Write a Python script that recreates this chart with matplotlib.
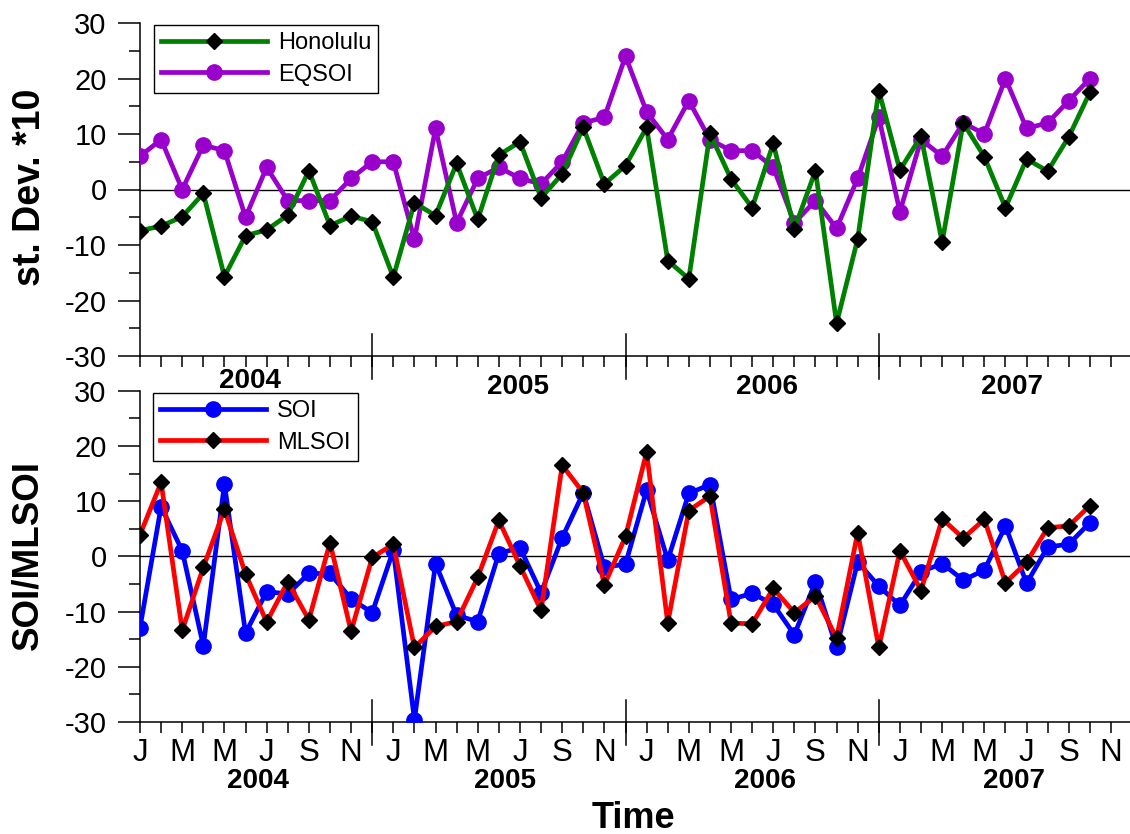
import matplotlib
matplotlib.use('Agg')
import matplotlib.pyplot as plt
import matplotlib.transforms as mtransforms
from matplotlib.lines import Line2D

plt.rcParams['font.family'] = ['Liberation Sans', 'DejaVu Sans']
plt.rcParams['axes.unicode_minus'] = False

# month index 0 = Jan 2004
honolulu = [-7.4, -6.6, -4.9, -0.7, -15.7, -8.3, -7.3, -4.6, 3.4, -6.5, -4.8, -5.8,
            -15.8, -2.4, -4.7, 4.7, -5.4, 6.2, 8.6, -1.5, 2.8, 11.2, 1.0, 4.3,
            11.2, -12.8, -16.1, 10.1, 1.9, -3.3, 8.3, -7.1, 3.4, -24.1, -8.9, 17.8,
            3.5, 9.6, -9.5, 12.0, 5.9, -3.3, 5.5, 3.3, 9.5, 17.5]
eqsoi = [6.0, 9.0, 0.0, 8.0, 7.0, -5.0, 4.0, -2.0, -2.0, -2.0, 2.0, 5.0,
         5.0, -9.0, 11.0, -6.0, 2.0, 4.0, 2.0, 1.0, 5.0, 12.0, 13.0, 24.0,
         14.0, 9.0, 16.0, 9.0, 7.0, 7.0, 4.0, -6.0, -2.0, -7.0, 2.0, 13.0,
         -4.0, 9.0, 6.0, 12.0, 10.0, 20.0, 11.0, 12.0, 16.0, 20.0]
soi = [-12.9, 9.0, 1.0, -16.2, 13.1, -13.9, -6.4, -6.8, -3.1, -3.1, -7.7, -10.2,
       1.1, -29.6, -1.3, -10.7, -11.8, 0.5, 1.6, -6.6, 3.4, 11.5, -2.0, -1.4,
       12.0, -0.7, 11.4, 13.0, -7.8, -6.7, -8.7, -14.2, -4.6, -16.5, -1.0, -5.4,
       -8.9, -2.8, -1.3, -4.3, -2.5, 5.5, -4.9, 1.7, 2.2, 6.1]
mlsoi = [3.9, 13.4, -13.4, -2.0, 8.5, -3.2, -11.9, -4.6, -11.5, 2.5, -13.6, -0.2,
         2.2, -16.5, -12.7, -11.8, -3.8, 6.5, -1.7, -9.8, 16.5, 11.5, -5.2, 3.6,
         18.9, -12.1, 8.3, 10.9, -12.1, -12.2, -5.8, -10.2, -7.2, -14.8, 4.3, -16.5,
         1.0, -6.2, 6.8, 3.3, 6.7, -4.8, -1.1, 5.2, 5.5, 9.2]
month_labels = ['J', 'M', 'M', 'J', 'S', 'N']
years = ['2004', '2005', '2006', '2007']

x = list(range(len(honolulu)))

W, H = 1130, 834
fig = plt.figure(figsize=(W / 100, H / 100), dpi=100)
ax1 = fig.add_axes([140 / W, 1 - 356 / H, 990 / W, 333 / H])
ax2 = fig.add_axes([140 / W, 1 - 722 / H, 990 / W, 331.3 / H])
ax2.patch.set_visible(False)

for ax in (ax1, ax2):
    ax.set_xlim(0, 46.9)
    ax.set_ylim(-30, 30)
    ax.spines['top'].set_visible(False)
    ax.spines['right'].set_visible(False)
    ax.spines['left'].set_linewidth(1.1)
    ax.spines['bottom'].set_linewidth(1.1)
    ax.set_yticks(range(-30, 31, 10))
    ax.set_yticks(range(-25, 30, 10), minor=True)
    ax.tick_params(axis='y', which='major', length=16, width=1.1, pad=8, labelsize=21)
    ax.tick_params(axis='y', which='minor', length=8, width=1.1)
    ax.axhline(0, color='black', lw=1.0, zorder=1)
    trans = mtransforms.blended_transform_factory(ax.transData, ax.transAxes)
    for sx in (11, 23, 35):
        ax.add_line(Line2D([sx, sx], [-23 / 333, 22 / 333], transform=trans,
                           color='black', lw=1.1, clip_on=False))

# top panel
ax1.set_xticks(range(0, 47))
ax1.set_xticklabels([])
ax1.tick_params(axis='x', which='major', length=8, width=1.1)
ax1.plot(x, eqsoi, color='#9900CC', lw=3.4, marker='o', markersize=11,
         markerfacecolor='#9900CC', markeredgecolor='#9900CC', label='EQSOI', zorder=3)
ax1.plot(x, honolulu, color='#008000', lw=3.4, marker='D', markersize=8.5,
         markerfacecolor='black', markeredgecolor='black', label='Honolulu', zorder=4)
h, l = ax1.get_legend_handles_labels()
leg1 = ax1.legend([h[1], h[0]], [l[1], l[0]], loc='upper left',
                  bbox_to_anchor=((154 - 140) / 990, 1 - (25 - 23) / 333),
                  fontsize=17, handlelength=4.5, handletextpad=0.45, labelspacing=0.4,
                  borderpad=0.3, borderaxespad=0, fancybox=False, framealpha=1,
                  edgecolor='black')
leg1.get_frame().set_linewidth(1.0)

# bottom panel
ax2.set_xticks(range(0, 47, 2))
ax2.set_xticks(range(1, 47, 2), minor=True)
ax2.set_xticklabels([month_labels[i % 6] for i in range(24)])
ax2.tick_params(axis='x', which='both', length=8, width=1.1, pad=3.5, labelsize=22.5)
ax2.plot(x, soi, color='#0000FF', lw=3.4, marker='o', markersize=11,
         markerfacecolor='#0000FF', markeredgecolor='#0000FF', label='SOI', zorder=3)
ax2.plot(x, mlsoi, color='#FF0000', lw=3.4, marker='D', markersize=8.5,
         markerfacecolor='black', markeredgecolor='black', label='MLSOI', zorder=4)
leg2 = ax2.legend(loc='upper left',
                  bbox_to_anchor=((153 - 140) / 990, 1 - (393 - 390.7) / 331.3),
                  fontsize=17, handlelength=4.5, handletextpad=0.45, labelspacing=0.4,
                  borderpad=0.3, borderaxespad=0, fancybox=False, framealpha=1,
                  edgecolor='black')
leg2.get_frame().set_linewidth(1.0)

# year labels
t1 = mtransforms.blended_transform_factory(ax1.transData, fig.transFigure)
t2 = mtransforms.blended_transform_factory(ax2.transData, fig.transFigure)
top_year_x = [5.2, 17.9, 29.7, 41.3]
top_year_y = [381, 387, 387, 387]
bot_year_x = [5.6, 17.3, 29.6, 41.4]
for yr, xx, yy in zip(years, top_year_x, top_year_y):
    fig.text(xx, 1 - yy / H, yr, transform=t1, ha='center', va='center',
             fontsize=20, fontweight='bold')
for yr, xx in zip(years, bot_year_x):
    fig.text(xx, 1 - 781 / H, yr, transform=t2, ha='center', va='center',
             fontsize=20, fontweight='bold')

fig.text(30 / W, 1 - 187 / H, 'st. Dev. *10', rotation=90, ha='center', va='center',
         fontsize=27, fontweight='bold')
fig.text(28 / W, 1 - 555 / H, 'SOI/MLSOI', rotation=90, ha='center', va='center',
         fontsize=26.5, fontweight='bold')
fig.text(633 / W, 1 - 818 / H, 'Time', ha='center', va='center',
         fontsize=26, fontweight='bold')

fig.savefig('out.png', dpi=100)
